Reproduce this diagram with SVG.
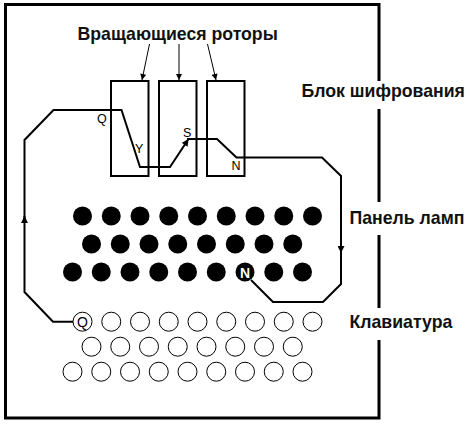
<svg xmlns="http://www.w3.org/2000/svg" xmlns:xlink="http://www.w3.org/1999/xlink" width="470" height="431" viewBox="0 0 470 431">
<style>
.frame{fill:none;stroke:#000;stroke-width:3}
.rotor{fill:#fff;stroke:#000;stroke-width:2}
.wire{fill:none;stroke:#000;stroke-width:2;stroke-linejoin:miter}
.ptr{fill:none;stroke:#000;stroke-width:1}
.lamp{fill:#000}
.key{fill:#fff;stroke:#000;stroke-width:1}
.lbl{font-family:"Liberation Sans",Arial,sans-serif;font-weight:bold;font-size:17.7px;fill:#111}
.pin{font-family:"Liberation Sans",Arial,sans-serif;font-size:12.5px;fill:#000}
</style>
<defs>
<marker id="wa" viewBox="0 0 8 8" refX="8" refY="4" markerWidth="8" markerHeight="7" markerUnits="userSpaceOnUse" orient="auto"><path d="M0,0 L8,4 L0,8 z" fill="#000"/></marker>
<marker id="pa" viewBox="0 0 8 8" refX="8" refY="4" markerWidth="7" markerHeight="6" markerUnits="userSpaceOnUse" orient="auto"><path d="M0,0 L8,4 L0,8 z" fill="#000"/></marker>
</defs>
<rect width="470" height="431" fill="#fff"/>
<g id="frame">
<path class="frame" d="M379,81 V4.5 H5.5 V418 H379 V340 M379,308 V235 M379,202 V109"/>
</g>
<g id="title">
<text class="lbl" x="77.5" y="40">Вращающиеся роторы</text>
</g>
<g id="label-block"><text class="lbl" x="301.5" y="97">Блок шифрования</text></g>
<g id="label-lamps"><text class="lbl" x="349.5" y="224">Панель ламп</text></g>
<g id="label-keys"><text class="lbl" x="349.5" y="328">Клавиатура</text></g>
<g id="rotor1"><rect class="rotor" x="111" y="81" width="37.5" height="95"/></g>
<g id="rotor2"><rect class="rotor" x="159" y="81" width="37.5" height="95"/></g>
<g id="rotor3"><rect class="rotor" x="207" y="81" width="37.5" height="95"/></g>
<g id="lamps">
<circle class="lamp" cx="82.5" cy="216" r="9.5"/><circle class="lamp" cx="111.25" cy="216" r="9.5"/><circle class="lamp" cx="140" cy="216" r="9.5"/><circle class="lamp" cx="168.75" cy="216" r="9.5"/><circle class="lamp" cx="197.5" cy="216" r="9.5"/><circle class="lamp" cx="226.25" cy="216" r="9.5"/><circle class="lamp" cx="255" cy="216" r="9.5"/><circle class="lamp" cx="283.75" cy="216" r="9.5"/><circle class="lamp" cx="312.5" cy="216" r="9.5"/>
<circle class="lamp" cx="91.5" cy="244" r="9.5"/><circle class="lamp" cx="120.25" cy="244" r="9.5"/><circle class="lamp" cx="149" cy="244" r="9.5"/><circle class="lamp" cx="177.75" cy="244" r="9.5"/><circle class="lamp" cx="206.5" cy="244" r="9.5"/><circle class="lamp" cx="235.25" cy="244" r="9.5"/><circle class="lamp" cx="264" cy="244" r="9.5"/><circle class="lamp" cx="292.75" cy="244" r="9.5"/>
<circle class="lamp" cx="72.5" cy="272" r="9.5"/><circle class="lamp" cx="101.25" cy="272" r="9.5"/><circle class="lamp" cx="130" cy="272" r="9.5"/><circle class="lamp" cx="158.75" cy="272" r="9.5"/><circle class="lamp" cx="187.5" cy="272" r="9.5"/><circle class="lamp" cx="216.25" cy="272" r="9.5"/><circle class="lamp" cx="273.75" cy="272" r="9.5"/><circle class="lamp" cx="302.5" cy="272" r="9.5"/>
</g>
<g id="keys">
<circle class="key" cx="111.25" cy="321.7" r="9.5"/><circle class="key" cx="140" cy="321.7" r="9.5"/><circle class="key" cx="168.75" cy="321.7" r="9.5"/><circle class="key" cx="197.5" cy="321.7" r="9.5"/><circle class="key" cx="226.25" cy="321.7" r="9.5"/><circle class="key" cx="255" cy="321.7" r="9.5"/><circle class="key" cx="283.75" cy="321.7" r="9.5"/><circle class="key" cx="312.5" cy="321.7" r="9.5"/>
<circle class="key" cx="91.5" cy="346.7" r="9.5"/><circle class="key" cx="120.25" cy="346.7" r="9.5"/><circle class="key" cx="149" cy="346.7" r="9.5"/><circle class="key" cx="177.75" cy="346.7" r="9.5"/><circle class="key" cx="206.5" cy="346.7" r="9.5"/><circle class="key" cx="235.25" cy="346.7" r="9.5"/><circle class="key" cx="264" cy="346.7" r="9.5"/><circle class="key" cx="292.75" cy="346.7" r="9.5"/>
<circle class="key" cx="72.5" cy="371.7" r="9.5"/><circle class="key" cx="101.25" cy="371.7" r="9.5"/><circle class="key" cx="130" cy="371.7" r="9.5"/><circle class="key" cx="158.75" cy="371.7" r="9.5"/><circle class="key" cx="187.5" cy="371.7" r="9.5"/><circle class="key" cx="216.25" cy="371.7" r="9.5"/><circle class="key" cx="245" cy="371.7" r="9.5"/><circle class="key" cx="273.75" cy="371.7" r="9.5"/><circle class="key" cx="302.5" cy="371.7" r="9.5"/>
</g>
<g id="connectors">
<path class="ptr" d="M149.5,44 L142,80" marker-end="url(#pa)"/>
<path class="ptr" d="M179,44 L179,80" marker-end="url(#pa)"/>
<path class="ptr" d="M207.5,44 L216,80" marker-end="url(#pa)"/>
<path class="wire" d="M73,321.7 H53 L24.5,292 V216" marker-end="url(#wa)"/>
<path class="wire" d="M24.5,220 V140 L53.5,110 H121.5 L140,167 H170 L188.5,139" marker-end="url(#wa)"/>
<path class="wire" d="M187,139 H217 L236.5,157.5 H322 L341,176 V253" marker-end="url(#wa)"/>
<path class="wire" d="M341,250 V284 L323,302 H273 L251,280"/>
</g>
<g id="lamp-N">
<circle class="lamp" cx="245" cy="272" r="9.5"/>
<text x="245" y="277.5" text-anchor="middle" font-family="'Liberation Sans',Arial,sans-serif" font-weight="bold" font-size="14" fill="#fff">N</text>
</g>
<g id="key-Q">
<circle class="key" cx="82.5" cy="321.7" r="9.5"/>
<text x="82.5" y="327" text-anchor="middle" font-family="'Liberation Sans',Arial,sans-serif" font-size="14" fill="#000">Q</text>
</g>
<g id="pins">
<text class="pin" x="97" y="123">Q</text>
<text class="pin" x="135" y="153">Y</text>
<text class="pin" x="183" y="136.5">S</text>
<text class="pin" x="231.5" y="170">N</text>
</g>
</svg>
